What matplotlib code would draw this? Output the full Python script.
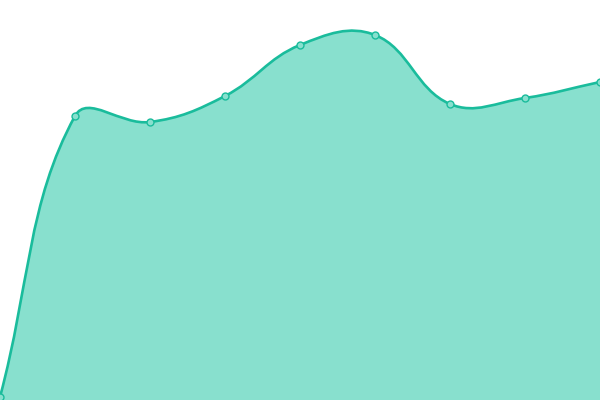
import numpy as np
import matplotlib
matplotlib.use("Agg")
import matplotlib.pyplot as plt
from matplotlib.path import Path
from matplotlib.patches import PathPatch

# values (chart units: 0 at bottom, 400 at top)
labels = ["a", "b", "c", "d", "e", "f", "g", "h", "i"]
values = [3, 284, 278, 304, 355, 365, 296, 302, 318]

LINE = "#1abc9c"
FILL = "#88e0ce"
TENSION = 0.4


def spline_controls(xs, ys, tension):
    # Chart.js-like cardinal bezier control points, distances in pixel space
    n = len(xs)
    cps = []
    for i in range(n):
        p0 = (xs[max(i - 1, 0)], ys[max(i - 1, 0)])
        p1 = (xs[i], ys[i])
        p2 = (xs[min(i + 1, n - 1)], ys[min(i + 1, n - 1)])
        d01 = np.hypot(p1[0] - p0[0], p1[1] - p0[1])
        d12 = np.hypot(p2[0] - p1[0], p2[1] - p1[1])
        tot = d01 + d12
        s01 = d01 / tot if tot else 0
        s12 = d12 / tot if tot else 0
        fa = tension * s01
        fb = tension * s12
        prev_cp = (p1[0] - fa * (p2[0] - p0[0]), p1[1] - fa * (p2[1] - p0[1]))
        next_cp = (p1[0] + fb * (p2[0] - p0[0]), p1[1] + fb * (p2[1] - p0[1]))
        cps.append((prev_cp, next_cp))
    return cps


fig = plt.figure(figsize=(6, 4), dpi=100)
ax = fig.add_axes([0, 0, 1, 1])
ax.set_xlim(0, len(values) - 1)
ax.set_ylim(0, 400)
ax.axis("off")

# pixel-space coordinates for the control point math
px_per_x = 600 / (len(values) - 1)
xs = np.arange(len(values)) * px_per_x
ys = np.array(values, dtype=float)
cps = spline_controls(xs, ys, TENSION)

verts = [(xs[0], ys[0])]
codes = [Path.MOVETO]
for i in range(len(xs) - 1):
    verts += [cps[i][1], cps[i + 1][0], (xs[i + 1], ys[i + 1])]
    codes += [Path.CURVE4] * 3
verts = [(vx / px_per_x, vy) for vx, vy in verts]

fill_verts = verts + [(len(values) - 1, 0), (0, 0), verts[0]]
fill_codes = codes + [Path.LINETO, Path.LINETO, Path.CLOSEPOLY]
ax.add_patch(PathPatch(Path(fill_verts, fill_codes), facecolor=FILL,
                       edgecolor="none", zorder=1))
ax.add_patch(PathPatch(Path(verts, codes), facecolor="none", edgecolor=LINE,
                       lw=1.9, zorder=2, capstyle="round"))

ax.plot(np.arange(len(values)), values, "o", ms=5, mfc=FILL, mec=LINE,
        mew=1.0, zorder=3, clip_on=False)

fig.savefig("out.png", dpi=100)
